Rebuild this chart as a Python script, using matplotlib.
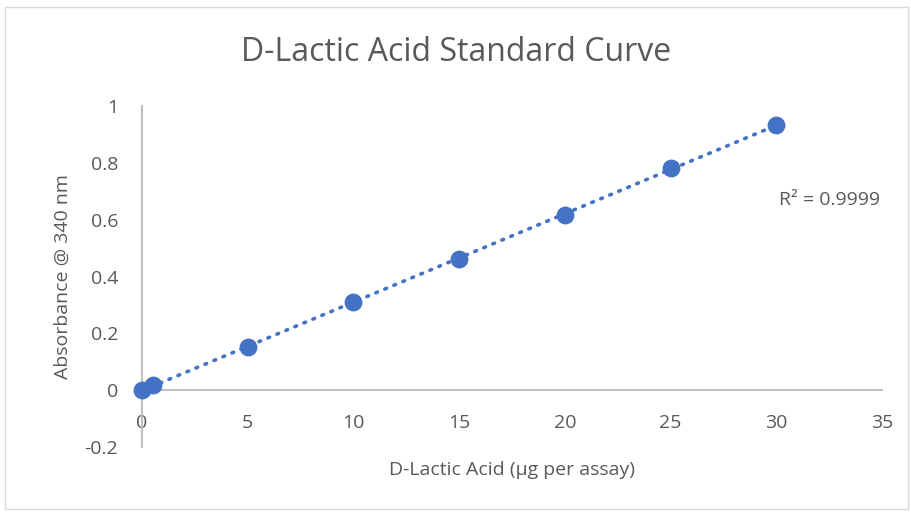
import matplotlib
matplotlib.use("Agg")
import matplotlib.pyplot as plt
from matplotlib.patches import Rectangle
import numpy as np

# standard curve readings
amount = [0, 0.5, 5, 10, 15, 20, 25, 30]
absorb = [0.0, 0.018, 0.151, 0.31, 0.461, 0.616, 0.782, 0.933]
x_ticks = [0, 5, 10, 15, 20, 25, 30, 35]
y_ticks = [-0.2, 0, 0.2, 0.4, 0.6, 0.8, 1]
y_labels = ["-0.2", "0", "0.2", "0.4", "0.6", "0.8", "1"]

blue = "#4472C4"
txt = "#595959"
axc = "#BFBFBF"

plt.rcParams['font.family'] = ['Open Sans', 'DejaVu Sans']

fig = plt.figure(figsize=(9.12, 5.13), dpi=100)
fig.patches.append(Rectangle((0.006, 0.008), 0.99, 0.978, transform=fig.transFigure,
                             fill=False, edgecolor="#D9D9D9", linewidth=1))

ax = fig.add_axes([142 / 912, (513 - 447) / 513, (882 - 142) / 912, (447 - 106) / 513])
ax.set_xlim(0, 35)
ax.set_ylim(-0.2, 1)

x = np.array(amount)
y = np.array(absorb)
slope, icpt = np.polyfit(x, y, 1)
fit = slope * x + icpt
r2 = 1 - np.sum((y - fit) ** 2) / np.sum((y - y.mean()) ** 2)
ax.plot([x.min(), x.max()], [slope * x.min() + icpt, slope * x.max() + icpt],
        linestyle=(0, (0.5, 2.2)), color=blue, linewidth=2.6, dash_capstyle="round", zorder=2)
ax.scatter(x, y, s=140, color=blue, zorder=3, clip_on=False)

for s in ["top", "right"]:
    ax.spines[s].set_visible(False)
ax.spines["left"].set_color(axc)
ax.spines["left"].set_linewidth(1.5)
ax.spines["bottom"].set_position(("data", 0))
ax.spines["bottom"].set_color(axc)
ax.spines["bottom"].set_linewidth(1.5)
ax.spines["bottom"].set_zorder(1)

ax.set_xticks(x_ticks)
ax.set_xticklabels([str(t) for t in x_ticks])
ax.set_yticks(y_ticks)
ax.set_yticklabels(y_labels)
ax.tick_params(axis="both", length=0, labelsize=14, labelcolor=txt)
ax.tick_params(axis="y", pad=17)
ax.tick_params(axis="x", pad=17)

ax.set_xlabel("D-Lactic Acid (µg per assay)", fontsize=14, color=txt)
ax.xaxis.set_label_coords(0.5, -0.042)
ax.set_ylabel("Absorbance @ 340 nm", fontsize=14, color=txt)
ax.yaxis.set_label_coords(-0.095, 0.5)
fig.text(0.5, 0.898, "D-Lactic Acid Standard Curve", ha="center", va="center",
         fontsize=23, color=txt)
ax.text(32.5, 0.668, "R² = " + format(r2, ".4f"), fontsize=14, color=txt, ha="center", va="center")

fig.savefig("out.png", dpi=100)
